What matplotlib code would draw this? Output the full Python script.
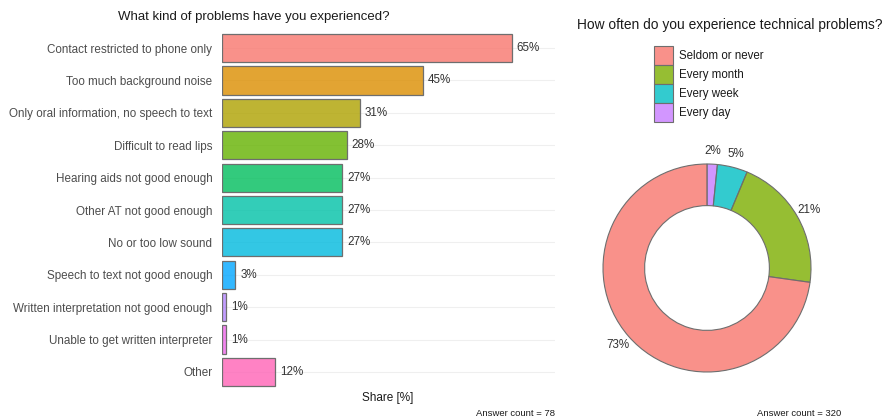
import matplotlib
matplotlib.use("Agg")
import matplotlib.pyplot as plt
from matplotlib.patches import Patch
from matplotlib.colors import to_rgba

plt.rcParams['font.family'] = ['Liberation Sans', 'DejaVu Sans']

# ---- data: problems (bar chart) ----
problem_labels = [
    "Contact restricted to phone only",
    "Too much background noise",
    "Only oral information, no speech to text",
    "Difficult to read lips",
    "Hearing aids not good enough",
    "Other AT not good enough",
    "No or too low sound",
    "Speech to text not good enough",
    "Written interpretation not good enough",
    "Unable to get written interpreter",
    "Other",
]
problem_share = [65, 45, 31, 28, 27, 27, 27, 3, 1, 1, 12]
problem_colors = ["#F8766D", "#DB8E00", "#AEA200", "#64B200", "#00BD5C", "#00C1A7",
                  "#00BADE", "#00A6FF", "#B385FF", "#EF67EB", "#FF63B6"]
problem_count = 78

# ---- data: frequency (donut) ----
freq_labels = ["Seldom or never", "Every month", "Every week", "Every day"]
freq_share = [72.8, 20.9, 4.7, 1.6]
freq_colors = ["#F8766D", "#7CAE00", "#00BFC4", "#C77CFF"]
freq_count = 320

W, H = 886, 418
fig = plt.figure(figsize=(W / 100, H / 100), dpi=100)

def fx(px):
    return px / W

def fy(py):
    return 1 - py / H

ALPHA = 0.8
edge = "#6E6E6E"
txt_dark = "#333333"
txt_axis = "#4D4D4D"

# ---- left bar chart ----
ax = fig.add_axes([fx(222), fy(391.4), fx(555) - fx(222), fy(28.6) - fy(391.4)])
n = len(problem_labels)
ypos = list(range(n))
bars = ax.barh(ypos, problem_share, height=0.87,
               color=[to_rgba(c, ALPHA) for c in problem_colors],
               edgecolor=edge, linewidth=0.9, zorder=3)
ax.set_ylim(n - 0.4, -0.6)
ax.set_xlim(0, 74.7)
ax.set_yticks(ypos)
ax.set_yticklabels(problem_labels, fontsize=8.4, color=txt_axis)
ax.set_xticks([])
ax.tick_params(axis='y', length=0, pad=7)
for s in ax.spines.values():
    s.set_visible(False)
for y in ypos:
    ax.axhline(y, color="#EFEFEF", lw=0.8, zorder=0)
ax.bar_label(bars, labels=[f"{v}%" for v in problem_share], padding=3.5,
             fontsize=8.4, color=txt_dark)

fig.text(fx(254), fy(17), "What kind of problems have you experienced?",
         ha='center', va='center', fontsize=9.5, color="#1A1A1A")
fig.text(fx(388), fy(398), "Share [%]", ha='center', va='center',
         fontsize=8.5, color="#1A1A1A")
fig.text(fx(555), fy(413), f"Answer count = {problem_count}", ha='right',
         va='center', fontsize=6.8, color="#1A1A1A")

# ---- right donut chart ----
cx, cy, R = 707, 268, 104
half = 1.35 * R
ax2 = fig.add_axes([fx(cx - half), fy(cy + half), 2 * half / W, 2 * half / H])
order = [3, 2, 1, 0]  # clockwise from top: Every day, Every week, Every month, Seldom
vals = [freq_share[i] for i in order]
cols = [to_rgba(freq_colors[i], ALPHA) for i in order]
wedges, _, autotexts = ax2.pie(
    vals, colors=cols, startangle=90, counterclock=False,
    autopct=lambda p: f"{p:.0f}%", pctdistance=1.13,
    wedgeprops=dict(width=0.4, edgecolor=edge, linewidth=0.8))
for t in autotexts:
    t.set_fontsize(8.4)
    t.set_color(txt_dark)
ax2.set_xlim(-1.35, 1.35)
ax2.set_ylim(-1.35, 1.35)
ax2.set_aspect('equal')
ax2.axis('off')

handles = [Patch(facecolor=to_rgba(c, ALPHA), edgecolor=edge, linewidth=0.8)
           for c in freq_colors]
fig.legend(handles, freq_labels, loc='upper left',
           bbox_to_anchor=(fx(654), fy(46)), frameon=False, fontsize=8.3,
           handlelength=1.65, handleheight=2.15, labelspacing=0.0,
           handletextpad=0.55, borderaxespad=0, borderpad=0, labelcolor="#1A1A1A")

fig.text(fx(730), fy(25), "How often do you experience technical problems?",
         ha='center', va='center', fontsize=9.9, color="#1A1A1A")
fig.text(fx(799), fy(413), f"Answer count = {freq_count}", ha='center',
         va='center', fontsize=6.8, color="#1A1A1A")

fig.savefig("out.png", dpi=100)
